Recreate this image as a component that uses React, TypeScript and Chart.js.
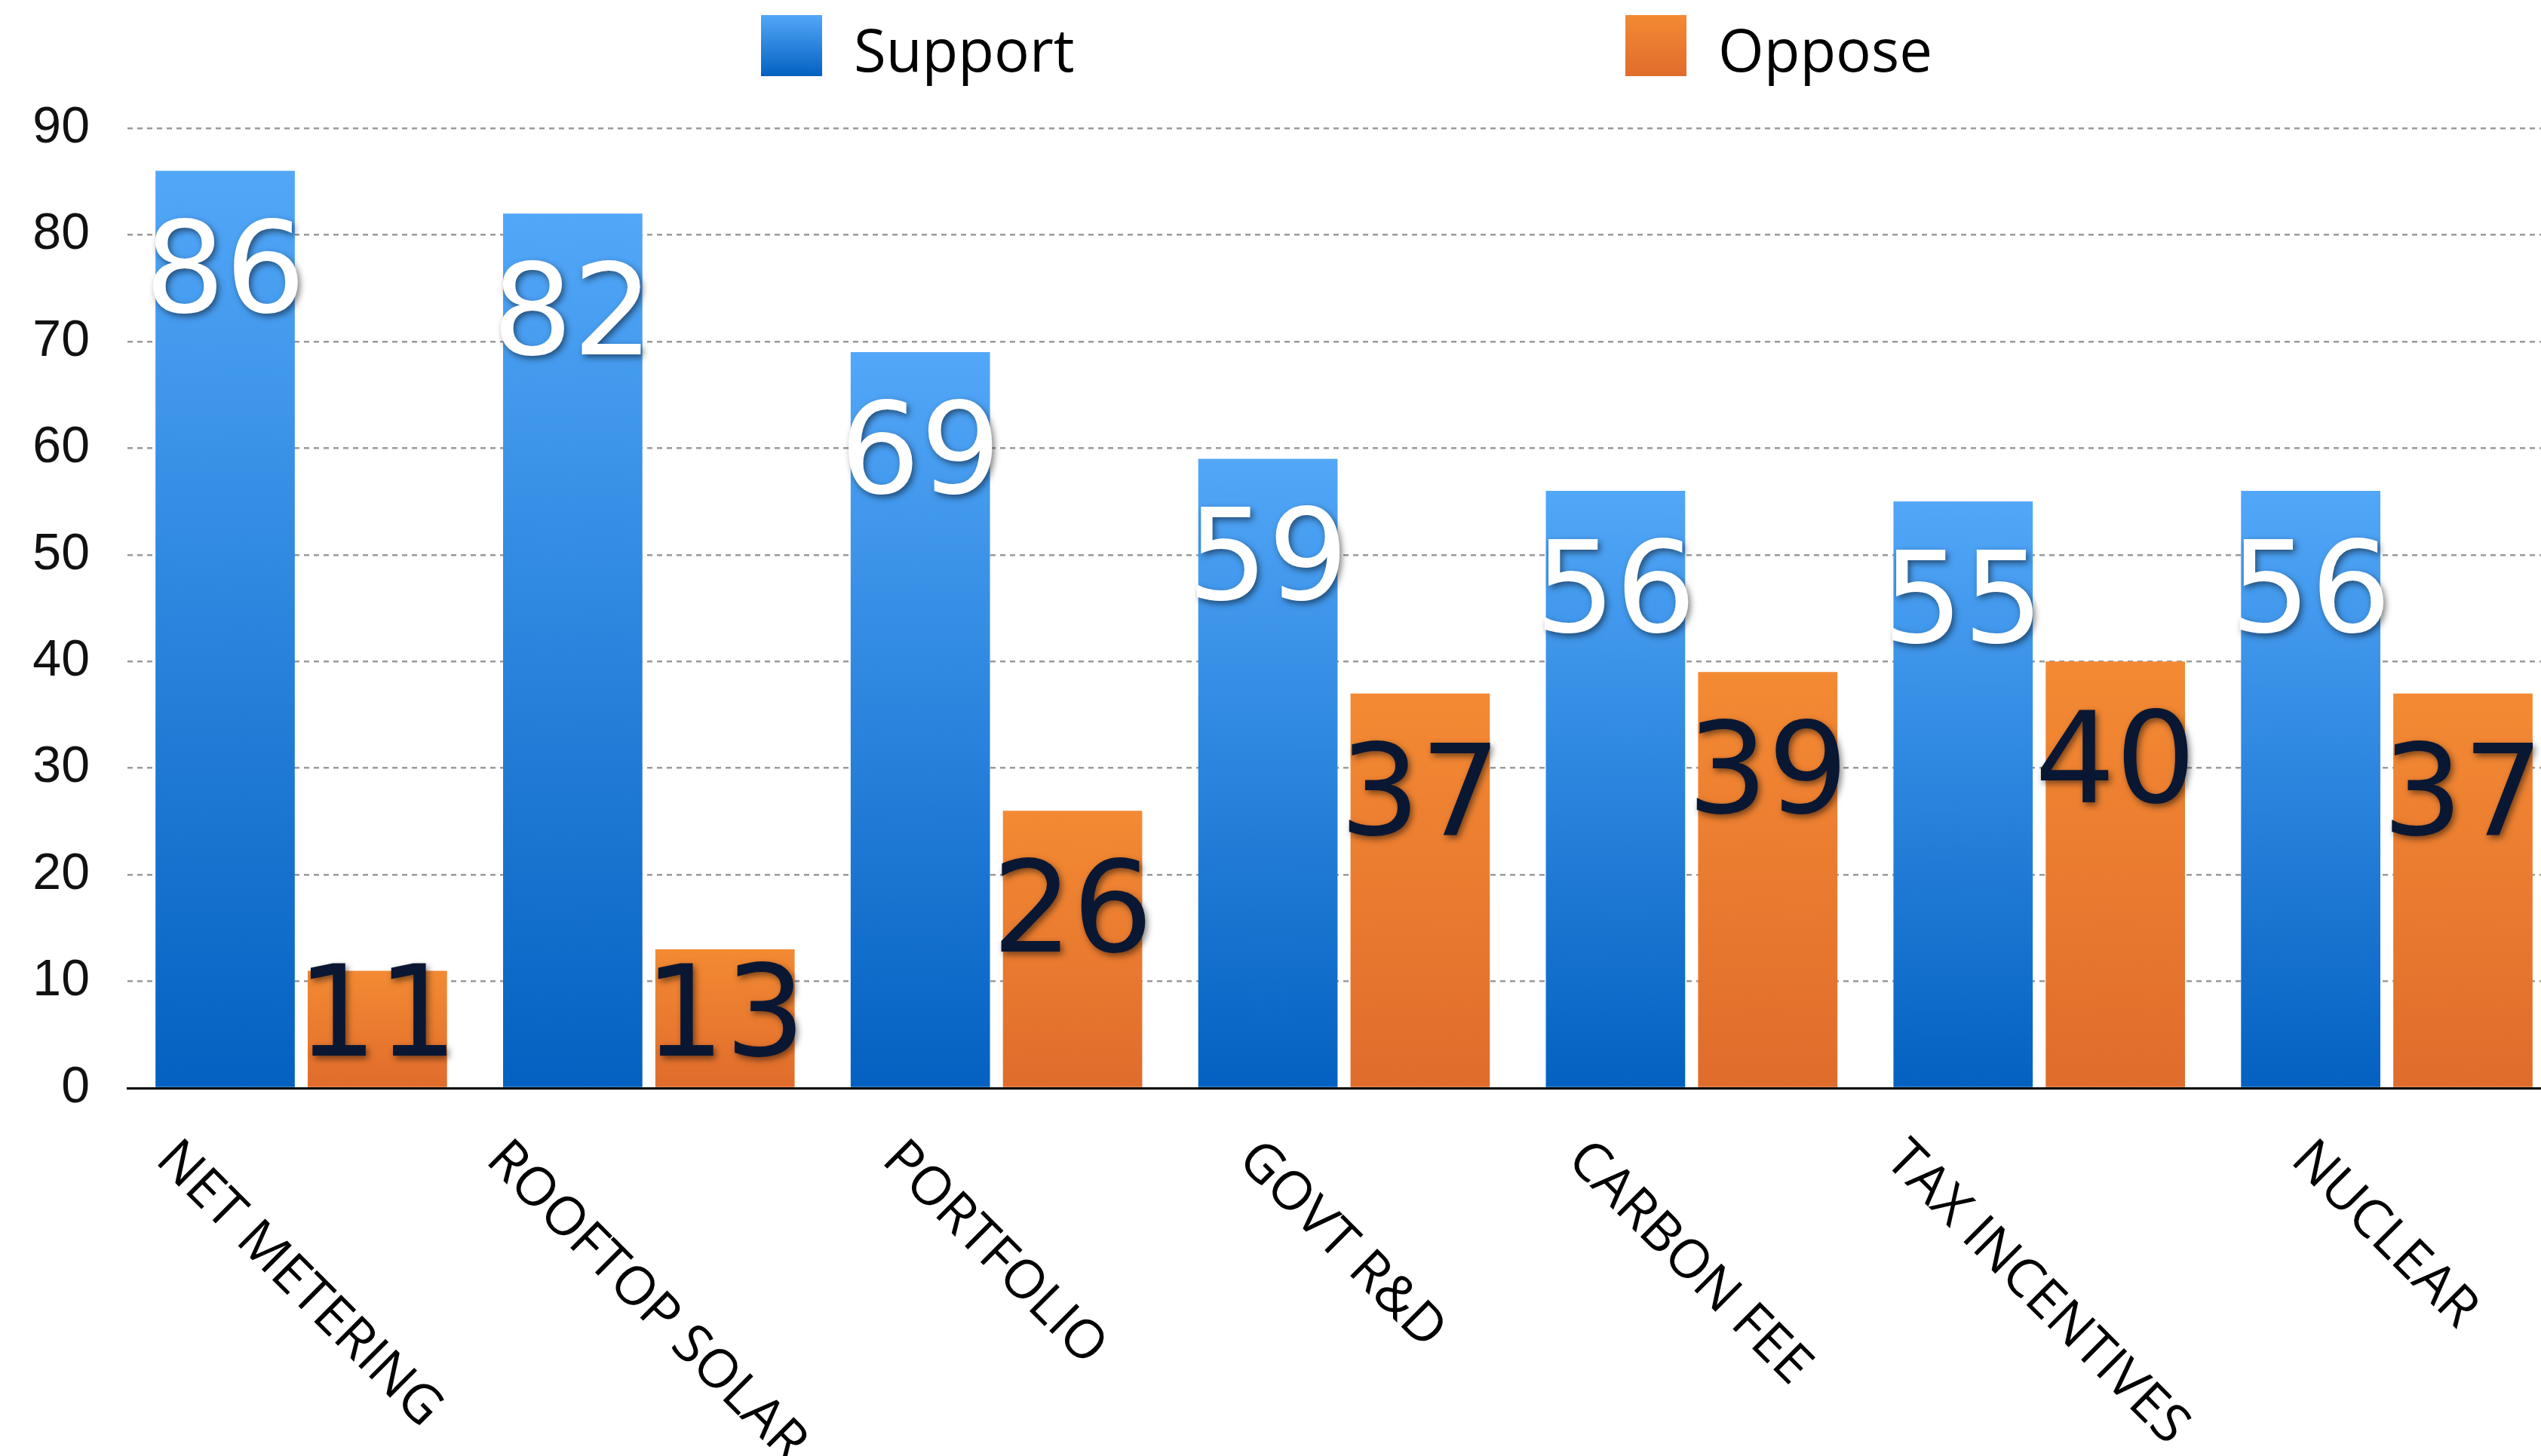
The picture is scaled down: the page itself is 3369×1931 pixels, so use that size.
import React, { useEffect, useRef } from 'react';
import { Chart, registerables } from 'chart.js';

Chart.register(...registerables);

const categories = ['NET METERING', 'ROOFTOP SOLAR', 'PORTFOLIO', 'GOVT R&D', 'CARBON FEE', 'TAX INCENTIVES', 'NUCLEAR'];
const supportValues = [86, 82, 69, 59, 56, 55, 56];
const opposeValues = [11, 13, 26, 37, 39, 40, 37];
const seriesNames = ['Support', 'Oppose'];
const yMin = 0;
const yMax = 90;
const yStep = 10;

const BLUE = ['#52a7f8', '#0461c1'];
const ORANGE = ['#f38a33', '#e06c2c'];
const SERIES_COLORS = [BLUE, ORANGE];
const LABEL_COLORS = ['#ffffff', '#0a1732'];

const CANVAS_W = 3395;
const CANVAS_H = 1931;

function barGradient(colors: string[]) {
  return (ctx: any) => {
    const chart = ctx.chart;
    if (!chart.chartArea || ctx.type !== 'data') return colors[1];
    const ys = chart.scales.y;
    const top = ys.getPixelForValue(ctx.raw);
    const bottom = ys.getPixelForValue(0);
    const g = chart.ctx.createLinearGradient(0, top, 0, bottom);
    g.addColorStop(0, colors[0]);
    g.addColorStop(1, colors[1]);
    return g;
  };
}

const valueLabels = {
  id: 'valueLabels',
  afterDatasetsDraw(chart: any) {
    const { ctx } = chart;
    const base = chart.scales.y.getPixelForValue(0);
    chart.data.datasets.forEach((ds: any, di: number) => {
      const meta = chart.getDatasetMeta(di);
      meta.data.forEach((bar: any, i: number) => {
        const v = ds.data[i];
        const cy = Math.min(bar.y + 126, base - 104);
        ctx.save();
        ctx.font = '168px "DejaVu Sans"';
        ctx.textAlign = 'center';
        ctx.textBaseline = 'alphabetic';
        ctx.fillStyle = LABEL_COLORS[di];
        ctx.shadowColor = 'rgba(0,0,0,0.5)';
        ctx.shadowBlur = 9;
        ctx.shadowOffsetX = 3;
        ctx.shadowOffsetY = 4;
        ctx.fillText(String(v), bar.x, cy + 61);
        ctx.restore();
      });
    });
  },
};

const categoryLabels = {
  id: 'categoryLabels',
  afterDraw(chart: any) {
    const { ctx } = chart;
    const xs = chart.scales.x;
    const base = chart.scales.y.getPixelForValue(0);
    ctx.save();
    ctx.font = '71px "Open Sans"';
    ctx.fillStyle = '#000';
    ctx.textAlign = 'center';
    ctx.textBaseline = 'alphabetic';
    const capH = 0.714 * 71;
    categories.forEach((c, i) => {
      const x = xs.getPixelForValue(i);
      const w = ctx.measureText(c).width;
      const half = ((w + capH) * Math.SQRT1_2) / 2;
      const cy = base + 62 + half;
      ctx.save();
      ctx.translate(x, cy);
      ctx.rotate(Math.PI / 4);
      ctx.fillText(c, 0, capH / 2);
      ctx.restore();
    });
    ctx.restore();
  },
};

const customLegend = {
  id: 'customLegend',
  afterDraw(chart: any) {
    const { ctx, chartArea } = chart;
    const center = (chartArea.left + chartArea.right) / 2;
    const offsets = [-773, 373];
    ctx.save();
    ctx.font = '78px "Open Sans"';
    ctx.textAlign = 'left';
    ctx.textBaseline = 'alphabetic';
    seriesNames.forEach((name, i) => {
      const x = center + offsets[i];
      const top = 20;
      const size = 81;
      const g = ctx.createLinearGradient(0, top, 0, top + size);
      g.addColorStop(0, SERIES_COLORS[i][0]);
      g.addColorStop(1, SERIES_COLORS[i][1]);
      ctx.fillStyle = g;
      ctx.fillRect(x, top, size, size);
      ctx.fillStyle = '#000';
      ctx.fillText(name, x + size + 42, 95);
    });
    ctx.restore();
  },
};

export default function App() {
  const ref = useRef<HTMLCanvasElement>(null);
  useEffect(() => {
    const canvas = ref.current;
    if (!canvas) return;
    const chart = new Chart(canvas, {
      type: 'bar',
      data: {
        labels: categories,
        datasets: [
          {
            label: seriesNames[0],
            data: supportValues,
            backgroundColor: barGradient(BLUE),
            borderWidth: 0,
          },
          {
            label: seriesNames[1],
            data: opposeValues,
            backgroundColor: barGradient(ORANGE),
            borderWidth: 0,
          },
        ],
      },
      options: {
        animation: false,
        responsive: false,
        devicePixelRatio: 1,
        layout: { padding: { top: 170, left: 0, right: 0, bottom: 0 } },
        categoryPercentage: 0.876,
        barPercentage: 0.915,
        plugins: {
          legend: { display: false },
          tooltip: { enabled: false },
          title: { display: false },
        },
        scales: {
          x: {
            ticks: { display: false },
            grid: { display: false, drawTicks: false },
            border: { display: true, color: '#000', width: 3 },
            afterFit(scale: any) {
              scale.height = 488;
            },
          },
          y: {
            min: yMin,
            max: yMax,
            ticks: {
              stepSize: yStep,
              padding: 50,
              color: '#111',
              font: { family: '"Liberation Sans", Arial, sans-serif', size: 68 },
            },
            grid: { color: '#9a9a9a', lineWidth: 2.5, drawTicks: false },
            border: { display: false, dash: [7, 6] },
            afterFit(scale: any) {
              scale.width = 169;
            },
          },
        },
      } as any,
      plugins: [valueLabels, categoryLabels, customLegend],
    });
    return () => chart.destroy();
  }, []);

  return (
    <div
      style={{
        position: 'fixed',
        left: 0,
        top: 0,
        width: '100vw',
        height: '100vh',
        overflow: 'hidden',
        background: '#fff',
      }}
    >
      <canvas ref={ref} width={CANVAS_W} height={CANVAS_H} style={{ display: 'block' }} />
    </div>
  );
}
